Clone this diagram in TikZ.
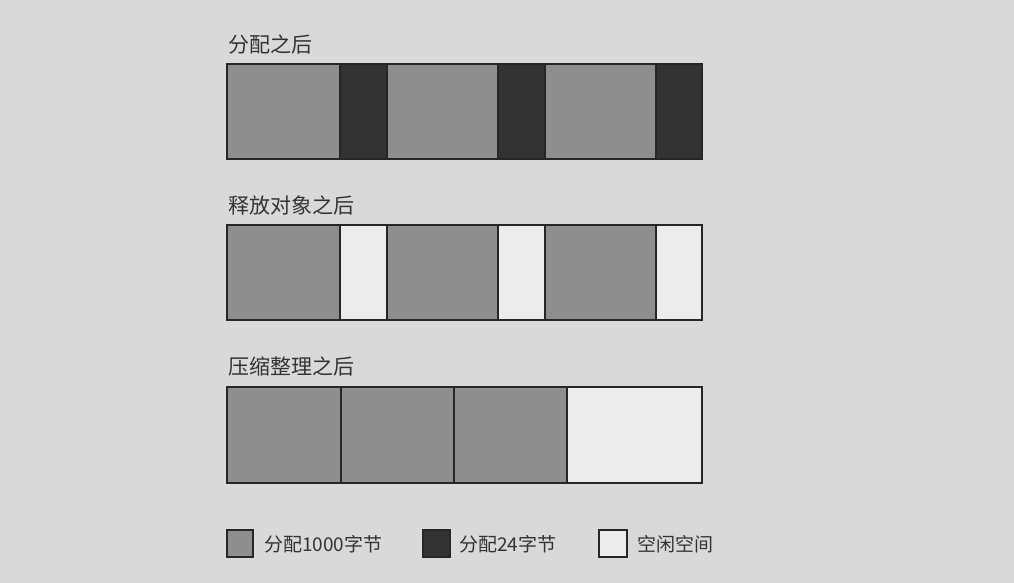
\documentclass[tikz,border=0pt]{standalone}
\usepackage{fontspec}
\newfontfamily\cjk{Noto Sans CJK SC}
\definecolor{bgc}{HTML}{D9D9D9}
\definecolor{usedc}{HTML}{8E8E8E}
\definecolor{smallc}{HTML}{333333}
\definecolor{freec}{HTML}{ECECEC}
\definecolor{linec}{HTML}{262626}
\begin{document}
\begin{tikzpicture}[x=1pt,y=-1pt,
  blk/.style={draw=linec,line width=2.2pt},
  used/.style={blk,fill=usedc},
  small/.style={blk,fill=smallc},
  free/.style={blk,fill=freec},
  lbl/.style={font=\cjk\fontsize{19}{22}\selectfont,text=black!80,inner sep=0pt,anchor=base west},
  ttl/.style={lbl,font=\cjk\fontsize{21}{24}\selectfont}]
\fill[bgc] (0,0) rectangle (1014,583);
\useasboundingbox (0,0) rectangle (1014,583);
% row 1
\node[ttl] (t1) at (228,53) {分配之后};
\draw[small] (227,64) rectangle (702,159);
\draw[used] (227,64) rectangle (340,159);
\draw[used] (387,64) rectangle (498,159);
\draw[used] (545,64) rectangle (656,159);
% row 2
\node[ttl] (t2) at (228,213) {释放对象之后};
\draw[used] (227,225) rectangle (340,320);
\draw[free] (340,225) rectangle (387,320);
\draw[used] (387,225) rectangle (498,320);
\draw[free] (498,225) rectangle (545,320);
\draw[used] (545,225) rectangle (656,320);
\draw[free] (656,225) rectangle (702,320);
% row 3
\node[ttl] (t3) at (228,374) {压缩整理之后};
\draw[used] (227,387) rectangle (341,483);
\draw[used] (341,387) rectangle (454,483);
\draw[used] (454,387) rectangle (567,483);
\draw[free] (567,387) rectangle (702,483);
% legend
\draw[used] (227,530) rectangle (253,557);
\node[lbl] (l1) at (264,551) {分配1000字节};
\draw[small] (423,530) rectangle (450,557);
\node[lbl] (l2) at (459,551) {分配24字节};
\draw[free] (599,530) rectangle (627,557);
\node[lbl] (l3) at (637,551) {空闲空间};
\end{tikzpicture}
\end{document}
